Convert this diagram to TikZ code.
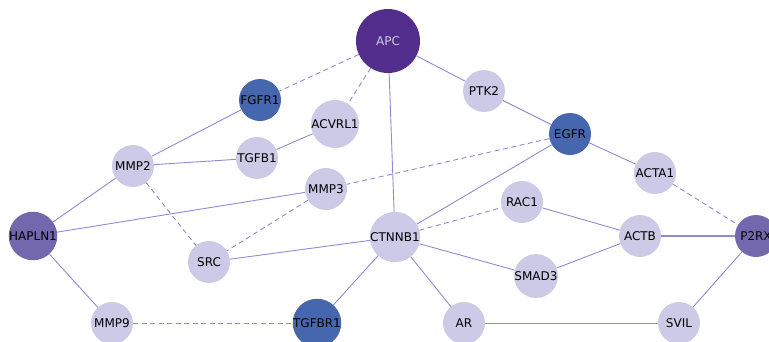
\documentclass[tikz,border=0pt]{standalone}
\usepackage{fontspec}
\setmainfont{DejaVu Sans}
\definecolor{lite}{HTML}{CCCAE6}
\definecolor{bluenode}{HTML}{4666AE}
\definecolor{apcpurple}{HTML}{532D8C}
\definecolor{midpurple}{HTML}{7368AD}
\definecolor{edgecol}{HTML}{8C8CD2}
\begin{document}
\begin{tikzpicture}[x=1pt,y=-1pt,
   gene/.style={circle,fill=lite,minimum size=42pt,inner sep=0pt,font=\fontsize{12}{12}\selectfont},
   hub/.style={gene,fill=bluenode},
   mid/.style={gene,fill=midpurple},
   link/.style={draw=edgecol,line width=0.9pt},
   pred/.style={link,dash pattern=on 5pt off 3.5pt}]
   \useasboundingbox (0,0) rectangle (769,341);
   \node [gene,fill=apcpurple,minimum size=64pt,text=lite] (apc) at (388,41) {APC};
   \node [hub] (fgfr1) at (260,100) {FGFR1};
   \node [gene] (acvrl1) at (335,124) {ACVRL1};
   \node [gene] (tgfb1) at (257,158) {TGFB1};
   \node [gene] (mmp2) at (133,166) {MMP2};
   \node [gene] (ptk2) at (484,91) {PTK2};
   \node [hub] (egfr) at (570,134) {EGFR};
   \node [gene] (acta1) at (655,173) {ACTA1};
   \node [gene] (mmp3) at (326,189) {MMP3};
   \node [gene] (rac1) at (522,202) {RAC1};
   \node [mid] (hapln1) at (33,236) {HAPLN1};
   \node [gene] (src) at (209,262) {SRC};
   \node [gene] (ctnnb1) at (395,237) {CTNNB1};
   \node [gene] (actb) at (640,236) {ACTB};
   \node [mid] (p2rx) at (756,236) {P2RX};
   \node [gene] (smad3) at (536,276) {SMAD3};
   \node [gene] (mmp9) at (112,323) {MMP9};
   \node [hub] (tgfbr1) at (317,323) {TGFBR1};
   \node [gene] (ar) at (464,323) {AR};
   \node [gene] (svil) at (679,323) {SVIL};
   \draw [pred] (apc)--(fgfr1);
   \draw [pred] (apc)--(acvrl1);
   \draw [link] (apc)--(ptk2);
   \draw [link] (apc)--(ctnnb1);
   \draw [link] (ptk2)--(egfr);
   \draw [link] (egfr)--(acta1);
   \draw [pred] (egfr)--(mmp3);
   \draw [link] (egfr)--(ctnnb1);
   \draw [pred] (acta1)--(p2rx);
   \draw [link] (fgfr1)--(mmp2);
   \draw [link] (acvrl1)--(tgfb1);
   \draw [link] (tgfb1)--(mmp2);
   \draw [link] (mmp2)--(hapln1);
   \draw [pred] (mmp2)--(src);
   \draw [link] (mmp3)--(hapln1);
   \draw [pred] (mmp3)--(src);
   \draw [link] (src)--(ctnnb1);
   \draw [pred] (ctnnb1)--(rac1);
   \draw [link] (ctnnb1)--(smad3);
   \draw [link] (ctnnb1)--(ar);
   \draw [link] (ctnnb1)--(tgfbr1);
   \draw [link] (rac1)--(actb);
   \draw [link] (smad3)--(actb);
   \draw [link,line width=1.6pt] (actb)--(p2rx);
   \draw [link] (p2rx)--(svil);
   \draw [link] (ar)--(svil);
   \draw [link] (hapln1)--(mmp9);
   \draw [pred] (mmp9)--(tgfbr1);
\end{tikzpicture}
\end{document}
